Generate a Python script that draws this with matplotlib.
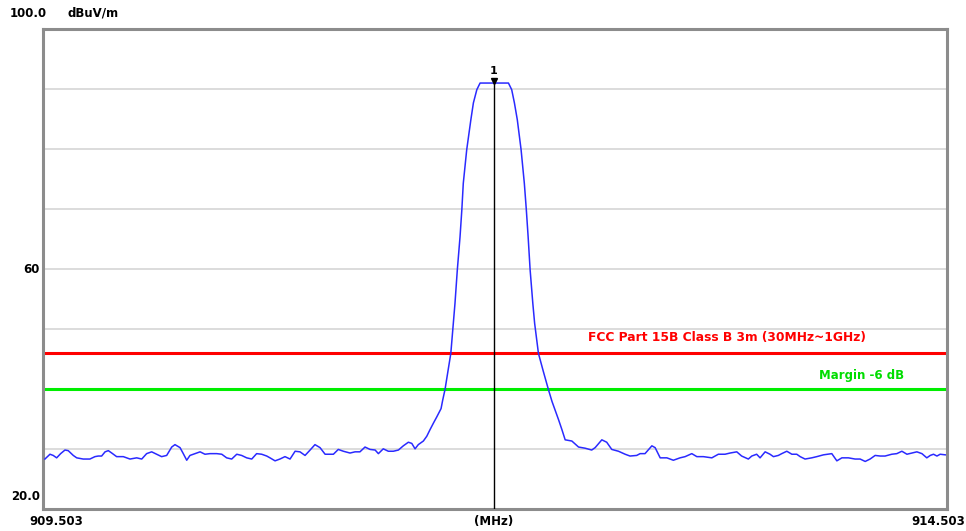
import numpy as np
import matplotlib
matplotlib.use("Agg")
import matplotlib.pyplot as plt

# trace (MHz, dBuV/m)
freq = [909.511, 909.539, 909.557, 909.576, 909.598, 909.622, 909.640, 909.668, 909.687, 909.723,
        909.760, 909.788, 909.806, 909.825, 909.844, 909.862, 909.881, 909.908, 909.945, 909.982,
        910.019, 910.047, 910.074, 910.102, 910.130, 910.157, 910.185, 910.213, 910.231, 910.259,
        910.277, 910.296, 910.314, 910.342, 910.370, 910.397, 910.425, 910.462, 910.490, 910.517,
        910.545, 910.573, 910.600, 910.628, 910.656, 910.683, 910.711, 910.739, 910.757, 910.785,
        910.812, 910.840, 910.868, 910.896, 910.923, 910.951, 910.979, 911.006, 911.034, 911.062,
        911.108, 911.135, 911.163, 911.200, 911.228, 911.255, 911.283, 911.311, 911.339, 911.357,
        911.384, 911.412, 911.440, 911.468, 911.495, 911.523, 911.542, 911.560, 911.578, 911.606,
        911.625, 911.643, 911.662, 911.680, 911.704, 911.713, 911.726, 911.758, 911.772, 911.781,
        911.794, 911.809, 911.819, 911.827, 911.846, 911.869, 911.883, 911.902, 911.920, 911.997,
        912.077, 912.095, 912.110, 912.126, 912.147, 912.165, 912.176, 912.186, 912.197, 912.212,
        912.222, 912.243, 912.270, 912.298, 912.318, 912.335, 912.355, 912.373, 912.391,
        912.428, 912.465, 912.502, 912.538, 912.557, 912.594, 912.621, 912.649, 912.686, 912.723,
        912.750, 912.787, 912.806, 912.833, 912.871, 912.889, 912.917, 912.954, 912.990, 913.027,
        913.055, 913.092, 913.120, 913.156, 913.203, 913.239, 913.276, 913.304, 913.341, 913.368,
        913.405, 913.424, 913.451, 913.470, 913.498, 913.525, 913.544, 913.571, 913.590, 913.618,
        913.646, 913.673, 913.692, 913.719, 913.756, 913.784, 913.821, 913.867, 913.895, 913.923,
        913.959, 913.996, 914.024, 914.052, 914.079, 914.107, 914.135, 914.162, 914.199, 914.227,
        914.255, 914.283, 914.310, 914.338, 914.366, 914.393, 914.412, 914.430, 914.449, 914.467,
        914.495]
level = [28.4, 29.2, 29.0, 28.6, 29.3, 29.9, 29.8, 29.0, 28.6, 28.4,
         28.4, 28.8, 28.9, 28.9, 29.6, 29.8, 29.4, 28.8, 28.8, 28.4,
         28.6, 28.4, 29.3, 29.6, 29.2, 28.8, 29.0, 30.4, 30.8, 30.3,
         29.3, 28.2, 29.0, 29.3, 29.6, 29.2, 29.3, 29.3, 29.2, 28.6,
         28.4, 29.2, 29.0, 28.6, 28.4, 29.3, 29.2, 28.9, 28.6, 28.1,
         28.4, 28.8, 28.4, 29.7, 29.6, 29.0, 29.9, 30.8, 30.3, 29.2,
         29.2, 30.0, 29.7, 29.4, 29.6, 29.6, 30.4, 30.0, 29.9, 29.3,
         30.1, 29.7, 29.7, 29.9, 30.6, 31.2, 31.0, 30.1, 30.8, 31.4,
         32.2, 33.3, 34.4, 35.4, 36.8, 38.2, 40.0, 46.0, 51.0, 54.3,
         59.9, 65.4, 69.9, 74.3, 79.9, 84.9, 87.7, 89.9, 91.0, 91.0,
         91.0, 89.9, 87.7, 84.9, 79.9, 74.3, 69.9, 65.4, 59.9, 54.3,
         51.0, 46.0, 43.0, 40.0, 38.0, 36.6, 34.9, 33.3, 31.6,
         31.4, 30.4, 30.2, 29.9, 30.3, 31.6, 31.2, 30.0, 29.7, 29.2,
         28.9, 29.0, 29.3, 29.3, 30.6, 30.3, 28.6, 28.6, 28.2, 28.6,
         28.8, 29.3, 28.8, 28.8, 28.6, 29.2, 29.2, 29.4, 29.6, 28.9,
         28.4, 28.9, 29.2, 28.6, 29.6, 29.2, 28.8, 29.0, 29.3, 29.7,
         29.2, 29.2, 28.8, 28.4, 28.6, 28.8, 29.1, 29.3, 28.1, 28.6,
         28.6, 28.4, 28.4, 28.0, 28.4, 29.0, 28.9, 28.9, 29.2, 29.3,
         29.7, 29.2, 29.4, 29.6, 29.3, 28.6, 29.0, 29.2, 28.9, 29.2,
         29.1]

f_start, f_stop = 909.503, 914.503
y_min, y_max = 20.0, 100.0
grid_levels = [30, 40, 50, 60, 70, 80, 90]
limit = 46.0       # FCC Part 15B class B 3m
margin = 40.0      # limit - 6 dB
marker_freq = 911.997
marker_level = 91.0

fig = plt.figure(figsize=(9.66, 5.31), dpi=100)
ax = fig.add_axes([0.045, 0.0405, 0.935, 0.9049])

for g in grid_levels:
    ax.axhline(g, color='#d6d6d6', lw=1.2, zorder=1)

ax.axhline(limit, color='#ff0000', lw=2.2, zorder=2)
ax.axhline(margin, color='#00ee00', lw=2.2, zorder=2)
ax.text(912.518, limit + 2.6, 'FCC Part 15B Class B 3m (30MHz~1GHz)', color='#ff0000',
        fontsize=8.8, fontweight='bold', va='center', ha='left')
ax.text(913.797, margin + 2.3, 'Margin -6 dB', color='#00dd00',
        fontsize=8.5, fontweight='bold', va='center', ha='left')

ax.plot(freq, level, color='#2a2aff', lw=1.1, zorder=3)

# marker 1
ax.plot([marker_freq, marker_freq], [y_min, marker_level], color='black', lw=1.0, zorder=4)
ax.plot(marker_freq, marker_level + 0.3, marker='v', color='black', ms=5, zorder=5)
ax.text(marker_freq, marker_level + 1.2, '1', ha='center', va='bottom', fontsize=8,
        fontweight='bold', zorder=5)

ax.set_xlim(f_start, f_stop)
ax.set_ylim(y_min, y_max)
ax.set_xticks([])
ax.set_yticks([])
for s in ax.spines.values():
    s.set_color('#8c8c8c')
    s.set_linewidth(2.2)

lab = dict(fontsize=8.5, fontweight='bold', color='black')
fig.text(0.010, 0.975, '100.0', ha='left', va='center', **lab)
fig.text(0.070, 0.975, 'dBuV/m', ha='left', va='center', **lab)
ax.text(-0.004, 60, '60', transform=ax.get_yaxis_transform(), ha='right', va='center', **lab)
ax.text(-0.004, 22.2, '20.0', transform=ax.get_yaxis_transform(), ha='right', va='center', **lab)
fig.text(0.030, 0.018, '909.503', ha='left', va='center', **lab)
fig.text(0.511, 0.018, '(MHz)', ha='center', va='center', **lab)
fig.text(0.999, 0.018, '914.503', ha='right', va='center', **lab)

fig.savefig('out.png', dpi=100)
